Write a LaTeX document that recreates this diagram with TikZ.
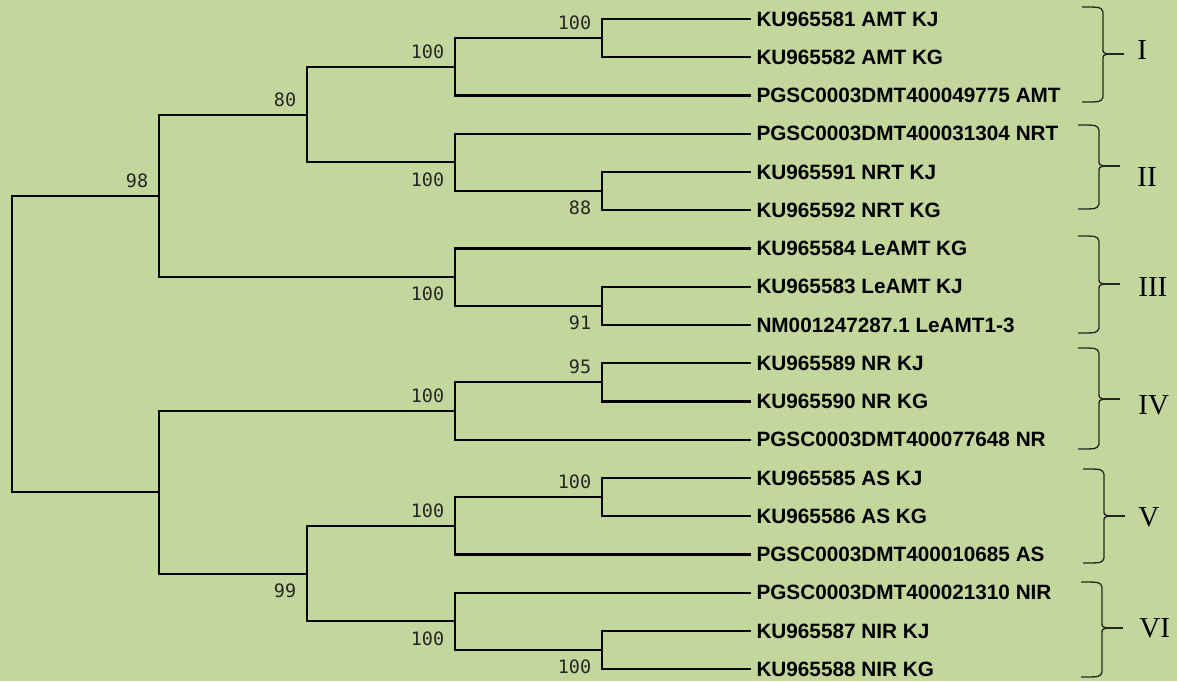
\documentclass[tikz,border=0pt]{standalone}
\usepackage{fontspec}
\setmainfont{Liberation Serif}
\newfontfamily\leaffont{Liberation Sans}
\newfontfamily\bootfont{DejaVu Sans Mono}
\usepackage{tikz}
\usetikzlibrary{positioning, calc}
\definecolor{treebg}{RGB}{195,214,155}
\tikzset{
  branch/.style={
    line width=1.2pt, draw=black, line cap=rect, line join=miter
  },
  leaf/.style={
    anchor=west, inner xsep=3.5pt, inner ysep=0pt,
    font=\leaffont\bfseries\fontsize{11.8}{13}\selectfont
  },
  boot/.style={
    inner sep=0pt, text=black!85,
    font=\bootfont\fontsize{10.5}{12}\selectfont
  },
  bracebar/.style={
    line width=0.75pt, draw=black!85
  },
  cladelabel/.style={
    anchor=west, inner sep=0pt,
    font=\fontsize{16.5}{18}\selectfont
  },
}
% clade brace: name, x of spine, top, tip, bottom
\newcommand{\cladebrace}[5]{%
  \draw[bracebar] (#2-21,#3) .. controls (#2-2,#3) .. (#2,#3+5)
    -- (#2,#4-6) .. controls (#2,#4-1) .. (#2+6,#4)
    .. controls (#2,#4+1) .. (#2,#4+6)
    -- (#2,#5-5) .. controls (#2-2,#5) .. (#2-21,#5);
  \draw[bracebar] (#2+5,#4) -- (#2+21,#4);
  \coordinate (#1) at (#2+21,#4);
}

\begin{document}
\begin{tikzpicture}[x=0.02cm, y=-0.02cm]
  \fill[treebg] (0,0) rectangle (1177,681);
  \useasboundingbox (0,0) rectangle (1177,681);

  % --- Leaves ---
  \node[leaf] (l1)  at (750,19)    {KU965581 AMT KJ};
  \node[leaf] (l2)  at (750,57.3)  {KU965582 AMT KG};
  \node[leaf] (l3)  at (750,95.5)  {PGSC0003DMT400049775 AMT};
  \node[leaf] (l4)  at (750,133.8) {PGSC0003DMT400031304 NRT};
  \node[leaf] (l5)  at (750,172)   {KU965591 NRT KJ};
  \node[leaf] (l6)  at (750,210.3) {KU965592 NRT KG};
  \node[leaf] (l7)  at (750,248.5) {KU965584 LeAMT KG};
  \node[leaf] (l8)  at (750,286.8) {KU965583 LeAMT KJ};
  \node[leaf] (l9)  at (750,325)   {NM001247287.1 LeAMT1-3};
  \node[leaf] (l10) at (750,363.3) {KU965589 NR KJ};
  \node[leaf] (l11) at (750,401.5) {KU965590 NR KG};
  \node[leaf] (l12) at (750,439.8) {PGSC0003DMT400077648 NR};
  \node[leaf] (l13) at (750,478)   {KU965585 AS KJ};
  \node[leaf] (l14) at (750,516.3) {KU965586 AS KG};
  \node[leaf] (l15) at (750,554.5) {PGSC0003DMT400010685 AS};
  \node[leaf] (l16) at (750,592.8) {PGSC0003DMT400021310 NIR};
  \node[leaf] (l17) at (750,631)   {KU965587 NIR KJ};
  \node[leaf] (l18) at (750,669.3) {KU965588 NIR KG};

  % --- Inner nodes ---
  \coordinate (aI)   at (602,38.1);
  \coordinate (cI)   at (455,66.8);
  \coordinate (aII)  at (602,191.1);
  \coordinate (cII)  at (455,162.4);
  \coordinate (n80)  at (307,114.6);
  \coordinate (aIII) at (602,305.9);
  \coordinate (cIII) at (455,277.2);
  \coordinate (n98)  at (159,195.9);
  \coordinate (aIV)  at (602,382.4);
  \coordinate (cIV)  at (455,411.1);
  \coordinate (aV)   at (602,497.1);
  \coordinate (cV)   at (455,525.8);
  \coordinate (aVI)  at (602,650.1);
  \coordinate (cVI)  at (455,621.4);
  \coordinate (n99)  at (307,573.6);
  \coordinate (nlow) at (159,492.4);
  \coordinate (root) at (12,344.1);

  % --- Branches ---
  \draw[branch] (aI) |- (l1.west) (aI) |- (l2.west);
  \draw[branch] (cI) |- (aI) (cI) |- (l3.west);
  \draw[branch] (aII) |- (l5.west) (aII) |- (l6.west);
  \draw[branch] (cII) |- (l4.west) (cII) |- (aII);
  \draw[branch] (n80) |- (cI) (n80) |- (cII);
  \draw[branch] (aIII) |- (l8.west) (aIII) |- (l9.west);
  \draw[branch] (cIII) |- (l7.west) (cIII) |- (aIII);
  \draw[branch] (n98) |- (n80) (n98) |- (cIII);
  \draw[branch] (aIV) |- (l10.west) (aIV) |- (l11.west);
  \draw[branch] (cIV) |- (aIV) (cIV) |- (l12.west);
  \draw[branch] (aV) |- (l13.west) (aV) |- (l14.west);
  \draw[branch] (cV) |- (aV) (cV) |- (l15.west);
  \draw[branch] (aVI) |- (l17.west) (aVI) |- (l18.west);
  \draw[branch] (cVI) |- (l16.west) (cVI) |- (aVI);
  \draw[branch] (n99) |- (cV) (n99) |- (cVI);
  \draw[branch] (nlow) |- (cIV) (nlow) |- (n99);
  \draw[branch] (root) |- (n98) (root) |- (nlow);

  % --- Bootstrap values ---
  \node[boot, above left=4.5pt and 6pt of aI]   (bI)   {100};
  \node[boot, above left=4.5pt and 6pt of cI]   (bcI)  {100};
  \node[boot, below left=5.5pt and 6pt of aII]  (bII)  {88};
  \node[boot, below left=5.5pt and 6pt of cII]  (bcII) {100};
  \node[boot, above left=4.5pt and 6pt of n80]  (b80)  {80};
  \node[boot, below left=5.5pt and 6pt of aIII] (bIII) {91};
  \node[boot, below left=5.5pt and 6pt of cIII] (bcIII) {100};
  \node[boot, above left=4.5pt and 6pt of n98]  (b98)  {98};
  \node[boot, above left=4.5pt and 6pt of aIV]  (bIV)  {95};
  \node[boot, above left=4.5pt and 6pt of cIV]  (bcIV) {100};
  \node[boot, above left=4.5pt and 6pt of aV]   (bV)   {100};
  \node[boot, above left=4.5pt and 6pt of cV]   (bcV)  {100};
  \node[boot, below left=5.5pt and 6pt of aVI]  (bVI)  {100};
  \node[boot, below left=5.5pt and 6pt of cVI]  (bcVI) {100};
  \node[boot, below left=5.5pt and 6pt of n99]  (b99)  {99};

  % --- Clade braces ---
  \cladebrace{tI}{1103}{7}{54}{102}
  \cladebrace{tII}{1099}{125}{166}{209}
  \cladebrace{tIII}{1099}{236}{284}{333}
  \cladebrace{tIV}{1099}{348}{399}{449}
  \cladebrace{tV}{1104}{469}{516}{563}
  \cladebrace{tVI}{1102}{582}{628}{677}

  \node[cladelabel] (gI)   at (1137,50)  {I};
  \node[cladelabel] (gII)  at (1137,177) {II};
  \node[cladelabel] (gIII) at (1138,287) {III};
  \node[cladelabel] (gIV)  at (1138,405) {IV};
  \node[cladelabel] (gV)   at (1138,517) {V};
  \node[cladelabel] (gVI)  at (1139,628) {VI};
\end{tikzpicture}
\end{document}
